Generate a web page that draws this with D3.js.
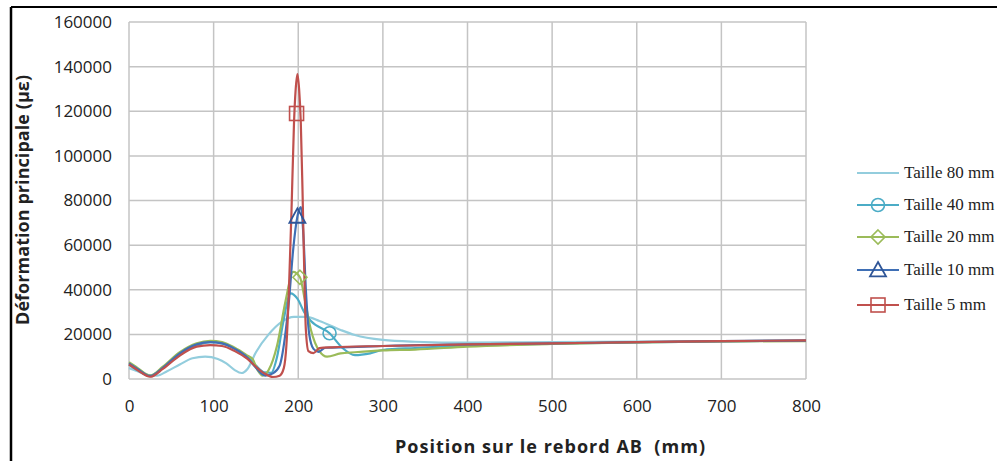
<!DOCTYPE html>
<html>
<head>
<meta charset="utf-8">
<script src="https://cdn.jsdelivr.net/npm/d3@7"></script>
<style>
  body { margin: 0; background: #fff; }
  svg { display: block; }
</style>
</head>
<body>
<svg id="chart" width="997" height="461"></svg>
<script>
// data (position mm, strain µε)
var xTicks = [0, 100, 200, 300, 400, 500, 600, 700, 800];
var yTicks = [0, 20000, 40000, 60000, 80000, 100000, 120000, 140000, 160000];

var taille80 = [[0,4900],[10,3500],[20,2000],[33,1500],[45,3500],[60,6500],[75,9300],[90,10000],[105,9000],[115,7000],[125,4000],[133,2700],[140,4500],[150,12000],[165,20000],[180,25500],[195,27800],[210,27800],[225,26000],[250,22000],[267,19700],[300,17500],[338,16700],[400,16300],[500,16500],[600,16800],[700,17000],[800,17200]];
var taille40 = [[0,6500],[10,4000],[25,1500],[40,5000],[60,11000],[80,15000],[96,16500],[110,16000],[125,13500],[140,10000],[150,6000],[160,3000],[168,2800],[175,10000],[182,25000],[191,38400],[199,36000],[207,30000],[215,26000],[237,20500],[252,14000],[267,10700],[285,11500],[300,13000],[338,13900],[400,15000],[500,15800],[600,16400],[700,16900],[800,17200]];
var taille20 = [[0,7500],[10,5000],[25,1500],[40,5500],[60,12000],[80,16000],[96,17100],[110,16500],[125,14000],[140,10500],[146,9000],[152,4000],[158,1500],[165,4000],[175,15000],[185,35000],[194,48000],[202,45600],[208,35000],[215,22000],[225,12500],[234,10000],[250,11500],[267,12000],[300,12800],[338,13200],[400,14500],[500,15700],[600,16400],[700,16800],[800,17000]];
var taille10 = [[0,7000],[10,4500],[25,1300],[40,5000],[60,11500],[80,15500],[96,16500],[110,16000],[125,13500],[140,9500],[150,5000],[161,1500],[170,2500],[178,6000],[184,18000],[189,35000],[194,58000],[199,72900],[203,77000],[206,65000],[209,40000],[213,20000],[218,13500],[224,12200],[232,14000],[260,14300],[300,14800],[400,15500],[500,16000],[600,16500],[700,17000],[800,17200]];
var taille5 = [[0,6500],[10,4000],[25,1000],[40,4500],[60,10500],[80,14500],[96,15200],[110,14800],[125,12500],[140,9000],[150,5500],[160,2500],[170,900],[178,1500],[183,5000],[186,15000],[189,40000],[192,75000],[195,115000],[197,130000],[199,136700],[201,130000],[203,115000],[205,85000],[207,50000],[209,22000],[212,12500],[218,11600],[225,13800],[240,14200],[300,14800],[400,15500],[500,16000],[600,16500],[700,17000],[800,17300]];

var seriesNames = ["Taille 80 mm", "Taille 40 mm", "Taille 20 mm", "Taille 10 mm", "Taille 5 mm"];
var seriesData = [taille80, taille40, taille20, taille10, taille5];
var seriesColors = ["#93cddd", "#4bacc6", "#9bbb59", "#3f6fb5", "#c0504d"];
var seriesMarkers = [null, "circle", "diamond", "triangle", "square"];
var markerPoints = [null, [237,20500], [202,45600], [199,72900], [198,119000]];

var svg = d3.select("#chart");

// outer frame
svg.append("line").attr("x1", 11).attr("x2", 997).attr("y1", 7).attr("y2", 7)
  .attr("stroke", "#000").attr("stroke-width", 2);
svg.append("line").attr("x1", 11).attr("x2", 11).attr("y1", 7).attr("y2", 461)
  .attr("stroke", "#000").attr("stroke-width", 2.5);

var x = d3.scaleLinear().domain([0, 800]).range([129, 806]);
var y = d3.scaleLinear().domain([0, 160000]).range([379, 22]);

// gridlines
svg.append("g").selectAll("line").data(xTicks).enter().append("line")
  .attr("x1", d => x(d)).attr("x2", d => x(d))
  .attr("y1", y(0)).attr("y2", y(160000))
  .attr("stroke", "#c4c4c4").attr("stroke-width", 1.5);
svg.append("g").selectAll("line").data(yTicks).enter().append("line")
  .attr("x1", x(0)).attr("x2", x(800))
  .attr("y1", d => y(d)).attr("y2", d => y(d))
  .attr("stroke", "#c4c4c4").attr("stroke-width", 1.5);

// axes (labels only)
var xAxis = svg.append("g").attr("transform", "translate(0,379)")
  .call(d3.axisBottom(x).tickValues(xTicks).tickSize(0).tickPadding(21).tickFormat(d3.format("d")));
var yAxis = svg.append("g").attr("transform", "translate(129,0)")
  .call(d3.axisLeft(y).tickValues(yTicks).tickSize(0).tickPadding(17).tickFormat(d3.format("d")));
[xAxis, yAxis].forEach(function(a){
  a.select(".domain").remove();
  a.selectAll("text").attr("font-family", "'Open Sans', sans-serif")
    .attr("font-size", 17).attr("fill", "#222");
});

svg.append("text").attr("x", 550).attr("y", 453).attr("text-anchor", "middle")
  .attr("font-family", "'Open Sans', sans-serif").attr("font-weight", "bold")
  .attr("font-size", 18).attr("fill", "#222")
  .attr("textLength", 310).attr("lengthAdjust", "spacing")
  .attr("xml:space", "preserve")
  .text("Position sur le rebord AB  (mm)");
svg.append("text").attr("transform", "translate(29,200) rotate(-90)")
  .attr("text-anchor", "middle")
  .attr("font-family", "'Open Sans', sans-serif").attr("font-weight", "bold")
  .attr("font-size", 18).attr("fill", "#222")
  .attr("textLength", 250).attr("lengthAdjust", "spacing")
  .text("Déformation principale (µε)");

var line = d3.line().x(d => x(d[0])).y(d => y(d[1])).curve(d3.curveMonotoneX);

var plot = svg.append("g");
seriesData.forEach(function(data, i){
  plot.append("path").datum(data)
    .attr("d", line).attr("fill", "none")
    .attr("stroke", seriesColors[i]).attr("stroke-width", 2.2)
    .attr("stroke-linejoin", "round");
});

function drawMarker(g, type, cx, cy, color, s){
  if (type === "circle") {
    g.append("circle").attr("cx", cx).attr("cy", cy).attr("r", 6.5*s)
      .attr("fill", "none").attr("stroke", color).attr("stroke-width", 1.6);
  } else if (type === "diamond") {
    var r = 7*s;
    g.append("path").attr("d", "M"+cx+","+(cy-r)+"L"+(cx+r)+","+cy+"L"+cx+","+(cy+r)+"L"+(cx-r)+","+cy+"Z")
      .attr("fill", "none").attr("stroke", color).attr("stroke-width", 1.6);
  } else if (type === "triangle") {
    var h = 8*s;
    g.append("path").attr("d", "M"+cx+","+(cy-h)+"L"+(cx+h)+","+(cy+h*0.8)+"L"+(cx-h)+","+(cy+h*0.8)+"Z")
      .attr("fill", "none").attr("stroke", color).attr("stroke-width", 1.8);
  } else if (type === "square") {
    var a = 7*s;
    g.append("rect").attr("x", cx-a).attr("y", cy-a).attr("width", 2*a).attr("height", 2*a)
      .attr("fill", "none").attr("stroke", color).attr("stroke-width", 1.6);
  }
}

var markerColors = ["#93cddd", "#4bacc6", "#9bbb59", "#2f5597", "#c0504d"];
seriesData.forEach(function(data, i){
  if (markerPoints[i]) drawMarker(plot, seriesMarkers[i], x(markerPoints[i][0]), y(markerPoints[i][1]), markerColors[i], 1);
});

// legend
var legendY = [173, 205, 237, 270, 305];
var legend = svg.append("g");
seriesNames.forEach(function(name, i){
  var ly = legendY[i];
  legend.append("line").attr("x1", 857).attr("x2", 899).attr("y1", ly).attr("y2", ly)
    .attr("stroke", seriesColors[i]).attr("stroke-width", 2);
  if (seriesMarkers[i]) drawMarker(legend, seriesMarkers[i], 878, ly, markerColors[i], 1);
  legend.append("text").attr("x", 904).attr("y", ly + 5)
    .attr("font-family", "'Liberation Serif', 'Times New Roman', serif")
    .attr("font-size", 17).attr("fill", "#222").text(name);
});
</script>
</body>
</html>
